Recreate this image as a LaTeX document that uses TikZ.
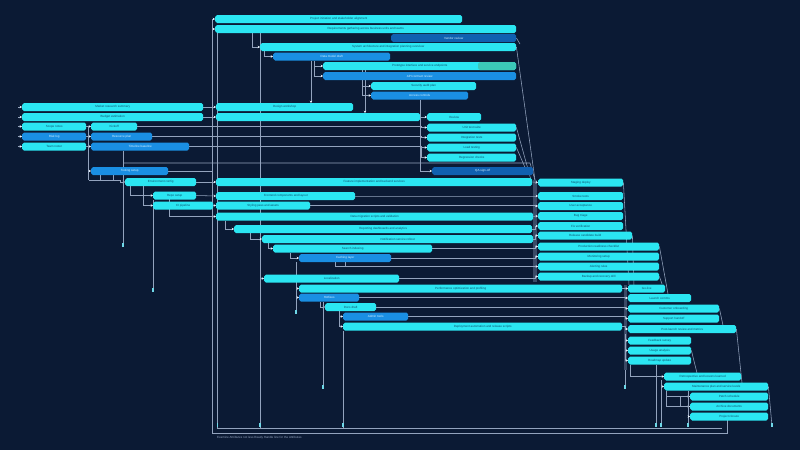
\documentclass[tikz,border=0pt]{standalone}
\usepackage{fontspec}
\setmainfont{Liberation Sans}
\usetikzlibrary{arrows.meta}
\definecolor{bgc}{HTML}{0B1A34}
\definecolor{cyb}{HTML}{2BE6F2}
\definecolor{blb}{HTML}{1A8FE3}
\definecolor{dkb}{HTML}{1060B0}
\definecolor{tea}{HTML}{3CC8B8}
\definecolor{lnc}{HTML}{93A3BD}
\definecolor{tipc}{HTML}{E6F0FA}
\definecolor{mrk}{HTML}{6FD8E8}
\definecolor{txd}{HTML}{0E4F6E}
\definecolor{txl}{HTML}{D6F2FF}
\definecolor{trk}{HTML}{3A4A66}
\pgfdeclarelayer{bg}
\pgfsetlayers{bg,main}
\newcommand\gb[7]{\node[barbox,fill=#5,text=#6,minimum width={(#3-#2)*1pt}] (#1) at (#2,#4) {#7};}
\newcommand\mk[2]{\fill[mrk] (#1-0.8,#2-2) rectangle (#1+0.8,#2+2);}
\begin{document}
\begin{tikzpicture}[x=1pt,y=-1pt,
  barbox/.style={rounded corners=1.8pt,inner sep=0pt,minimum height=8pt,anchor=west,
    font=\fontsize{3}{3.6}\selectfont},
  conn/.style={draw=lnc,line width=0.55pt},
  arr/.style={conn,-{Stealth[length=2.4pt,width=2.6pt,color=tipc]}}]
\useasboundingbox (0,0) rectangle (800,450);
% ---------------- bars ----------------
\gb{t1}{215}{462}{19}{cyb}{txd}{Project initiation and stakeholder alignment}
\gb{t2}{215}{516}{29}{cyb}{txd}{Requirements gathering across business units and teams}
\gb{t3}{391}{516}{38}{dkb}{txl}{Vendor review}
\gb{t4}{260}{516}{47}{cyb}{txd}{System architecture and integration planning overview}
\gb{t5}{273}{390}{56.5}{blb}{txl}{Data model draft}
\gb{t6}{323}{516}{66}{cyb}{txd}{Prototype interface and service endpoints}
\fill[tea,rounded corners=1.8pt] (478,62) rectangle (516,70);
\gb{t7}{323}{516}{76}{blb}{txl}{API contract review}
\gb{t8}{371}{476}{86}{cyb}{txd}{Security audit plan}
\gb{t9}{371}{468}{95.5}{blb}{txl}{Access controls}
\gb{l1}{22}{203}{107}{cyb}{txd}{Market research summary}
\gb{l2}{22}{203}{117}{cyb}{txd}{Budget estimation}
\gb{l3}{22}{86}{126.5}{cyb}{txd}{Scope notes}
\gb{l4}{22}{86}{136.5}{blb}{txl}{Risk log}
\gb{l5}{22}{86}{146.5}{cyb}{txd}{Team roster}
\gb{l6}{91}{137}{126.5}{cyb}{txd}{Kickoff}
\gb{l7}{91}{152}{136.5}{blb}{txl}{Resource plan}
\gb{l8}{91}{189}{146.5}{blb}{txl}{Timeline baseline}
\gb{l9}{91}{168}{171}{blb}{txl}{Tooling setup}
\gb{l10}{125}{196}{182}{cyb}{txd}{Environment config}
\gb{l11}{153}{196}{195.5}{cyb}{txd}{Repo setup}
\gb{l12}{153}{213}{205.5}{cyb}{txd}{CI pipeline}
\gb{m1}{216}{353}{107}{cyb}{txd}{Design workshop}
\gb{m2}{216}{420}{117}{cyb}{txd}{}
\gb{m3}{427}{481}{117}{cyb}{txd}{Review}
\gb{m4}{427}{516}{127.5}{cyb}{txd}{Unit test suite}
\gb{m5}{427}{516}{137.5}{cyb}{txd}{Integration tests}
\gb{m6}{427}{516}{147.5}{cyb}{txd}{Load testing}
\gb{m7}{427}{516}{157.5}{cyb}{txd}{Regression checks}
\gb{m8}{432}{533}{171}{dkb}{txl}{QA sign-off}
\gb{m9}{216}{532}{182}{cyb}{txd}{Feature implementation and backend services}
\gb{m10}{216}{355}{196}{cyb}{txd}{Frontend components and layout}
\gb{m11}{216}{310}{205.5}{cyb}{txd}{Styling pass and assets}
\gb{m12}{216}{533}{216.5}{cyb}{txd}{Data migration scripts and validation}
\gb{m13}{234}{532}{229}{cyb}{txd}{Reporting dashboards and analytics}
\gb{m14}{262}{533}{239}{cyb}{txd}{Notification service rollout}
\gb{m15}{273}{432}{248.5}{cyb}{txd}{Search indexing}
\gb{m16}{299}{391}{258}{blb}{txl}{Caching layer}
\gb{m17}{264}{399}{278.5}{cyb}{txd}{Localization}
\gb{m18}{299}{622}{288.5}{cyb}{txd}{Performance optimization and profiling}
\gb{m19}{299}{359}{297.5}{blb}{txl}{Hotfixes}
\gb{m20}{325}{376}{307}{cyb}{txd}{Docs draft}
\gb{m21}{343}{408}{316.5}{blb}{txl}{Admin tools}
\gb{m22}{343}{622}{326.5}{cyb}{txd}{Deployment automation and release scripts}
\gb{r1}{538}{623}{182.5}{cyb}{txd}{Staging deploy}
\gb{r2}{538}{623}{196}{cyb}{txd}{Smoke tests}
\gb{r3}{538}{623}{206}{cyb}{txd}{User acceptance}
\gb{r4}{538}{623}{216}{cyb}{txd}{Bug triage}
\gb{r5}{538}{623}{226}{cyb}{txd}{Fix verification}
\gb{r6}{538}{632}{235.5}{cyb}{txd}{Release candidate build}
\gb{r7}{538}{659}{246.5}{cyb}{txd}{Production readiness checklist}
\gb{r8}{538}{659}{256.5}{cyb}{txd}{Monitoring setup}
\gb{r9}{538}{659}{266.5}{cyb}{txd}{Alerting rules}
\gb{r10}{538}{659}{276.5}{cyb}{txd}{Backup and recovery drill}
\gb{s1}{628}{665}{288.5}{cyb}{txd}{Go-live}
\gb{s2}{628}{691}{298}{cyb}{txd}{Launch comms}
\gb{s3}{628}{719}{308.5}{cyb}{txd}{Customer onboarding}
\gb{s4}{628}{719}{318.5}{cyb}{txd}{Support handoff}
\gb{s5}{628}{736}{329}{cyb}{txd}{Post-launch review and metrics}
\gb{s6}{628}{691}{340.5}{cyb}{txd}{Feedback survey}
\gb{s7}{628}{691}{350.5}{cyb}{txd}{Usage analysis}
\gb{s8}{628}{691}{360.5}{cyb}{txd}{Roadmap update}
\gb{u1}{664}{741}{376.5}{cyb}{txd}{Retrospective and lessons learned}
\gb{u2}{664}{768}{386.5}{cyb}{txd}{Maintenance plan and service levels}
\gb{v1}{690}{768}{396.5}{cyb}{txd}{Patch schedule}
\gb{v2}{690}{768}{406.5}{cyb}{txd}{Archive documents}
\gb{v3}{690}{768}{416.5}{cyb}{txd}{Project closure}
\node[anchor=west,inner sep=0pt,text=lnc,font=\fontsize{3}{3.6}\selectfont] (cap) at (217,437.5)
  {Examine Attributes not less Ready Handle line for the Attributes};
% ---------------- connectors ----------------
\begin{pgfonlayer}{bg}
\fill[bgc] (0,0) rectangle (800,450);
% top cluster
\draw[conn] (212.5,19) -- (212.5,433) -- (727,433) -- (727,420);
\draw[conn] (217.5,29) -- (217.5,428) -- (722,428);
\draw[arr] (212.5,19) -- (t1.west);
\draw[arr] (212.5,29) -- (t2.west);
\draw[arr] (252,33) |- (t4.west);
\draw[conn] (260,33) -- (260,428);
\draw[arr] (264,51) |- (t5.west);
\draw[arr] (311,60.5) -- (311,103);
\draw[arr] (314,60.5) |- (t6.west);
\draw[arr] (314,60.5) |- (t7.west);
\draw[arr] (365,70) -- (365,113);
\draw[arr] (362,70) |- (t8.west);
\draw[arr] (362,70) |- (t9.west);
\draw[arr] (420,99.5) |- (m8.west);
\draw[arr] (m2.east) -- (m3.west);
\draw[arr] (l6.east) -- (421,126.5) |- (m4.west);
\draw[arr] (l7.east) -- (421,136.5) |- (m5.west);
\draw[arr] (l8.east) -- (421,146.5) |- (m6.west);
\draw[arr] (421,146.5) |- (m7.west);
\draw[conn] (t4.east) -- (535,180);
\draw[conn] (m4.east) -- (531,180);
\draw[conn] (m6.east) -- (527,172);
\draw[conn] (t3.east) -- (520,44);
% left cluster
\foreach \n in {l1,l2,l3,l4,l5}{\draw[arr] ([xshift=-4pt]\n.west) -- (\n.west);}
\draw[arr] (l1.east) -- (m1.west);
\draw[arr] (l2.east) -- (m2.west);
\draw[arr] (l3.east) -- (l6.west);
\draw[arr] (l4.east) -- (l7.west);
\draw[arr] (l5.east) -- (l8.west);
\draw[conn] (88.5,126.5) -- (88.5,180);
\draw[arr] (88.5,171) -- (l9.west);
\draw[arr] (88.5,180) -- (120,180) |- (l10.west);
\draw[conn] (100,174.5) -- (100,180);
\draw[conn] (113,174.5) -- (113,180);
\draw[conn] (123,150.5) -- (123,245);
\draw[conn] (123,163) -- (530,163) -- (535,180);
\draw[arr] (130,186) |- (l11.west);
\draw[arr] (143,186) |- (l12.west);
\draw[conn] (153,200) -- (153,290);
\draw[conn] (169,199) -- (169,216.5) -- (212.5,216.5);
\draw[conn] (l9.east) -- (212.5,171);
\draw[arr] (l10.east) -- (m9.west);
\draw[arr] (l11.east) -- (m10.west);
\draw[arr] (l12.east) -- (m11.west);
\draw[arr] (212.5,216.5) -- (m12.west);
% middle cluster
\fill[trk] (533,180) rectangle (536.5,282);
\draw[arr] (m9.east) -- (r1.west);
\draw[arr] (m10.east) -- (535,196) -- (r2.west);
\draw[arr] (m11.east) -- (535,205.5) |- (r3.west);
\draw[arr] (m12.east) -- (r4.west);
\draw[arr] (m13.east) -- (535,229) |- (r5.west);
\draw[arr] (m14.east) -- (535,239) |- (r6.west);
\draw[arr] (m15.east) -- (535,248.5) |- (r7.west);
\draw[arr] (m16.east) -- (535,258) |- (r8.west);
\draw[arr] (335,262) |- (r9.west);
\draw[conn] (345,262) -- (345,266.5);
\draw[arr] (m17.east) -- (535,278.5) |- (r10.west);
\draw[arr] (225,220.5) |- (m13.west);
\draw[arr] (250,233) |- (m14.west);
\draw[arr] (268,243) |- (m15.west);
\draw[arr] (290,252.5) |- (m16.west);
\draw[arr] (260,278.5) -- (m17.west);
\draw[conn] (296,262) -- (296,312);
\draw[arr] (296,288.5) -- (m18.west);
\draw[arr] (296,297.5) -- (m19.west);
\draw[arr] (320,301.5) |- (m20.west);
\draw[conn] (323,302) -- (323,387);
\draw[arr] (339,311) |- (m21.west);
\draw[arr] (339,311) |- (m22.west);
\draw[conn] (343,330.5) -- (343,428);
% right clusters
\fill[trk] (623.5,285) rectangle (627,370);
\draw[arr] (m18.east) -- (s1.west);
\draw[arr] (m19.east) -- (625,297.5) |- (s2.west);
\draw[arr] (m20.east) -- (625,307) |- (s3.west);
\draw[arr] (m21.east) -- (625,316.5) |- (s4.west);
\draw[arr] (m22.east) -- (625,326.5) |- (s5.west);
\draw[arr] (625,334) |- (s6.west);
\draw[arr] (625,334) |- (s7.west);
\draw[arr] (625,334) |- (s8.west);
\draw[conn] (625,370) -- (625,387);
\draw[conn] (r1.east) -- (629,285);
\draw[conn] (r6.east) -- (634,286);
\draw[conn] (r7.east) -- (668,294);
\draw[conn] (r10.east) -- (662,284);
\draw[conn] (s3.east) -- (724,330);
\draw[conn] (s5.east) -- (742,383);
\draw[conn] (s7.east) -- (697,373);
\draw[conn] (u2.east) -- (772,426);
\draw[arr] (630,364.5) |- (u1.west);
\draw[conn] (656,364.5) -- (656,427);
\draw[conn] (661,380) -- (661,427);
\draw[arr] (661,386.5) -- (u2.west);
\draw[conn] (666,390.5) -- (666,406.5);
\draw[arr] (666,396.5) -- (v1.west);
\draw[arr] (666,406.5) -- (v2.west);
\draw[conn] (680,396.5) -- (680,406.5);
\draw[conn] (688,390.5) -- (688,427);
\draw[arr] (688,416.5) -- (v3.west);
% end markers
\mk{123}{245} \mk{153}{290} \mk{296}{312} \mk{323}{387} \mk{625}{387}
\mk{661}{425} \mk{772}{425} \mk{217.5}{425} \mk{260}{425} \mk{343}{425}
\mk{656}{425} \mk{688}{425}
\end{pgfonlayer}
\end{tikzpicture}
\end{document}
